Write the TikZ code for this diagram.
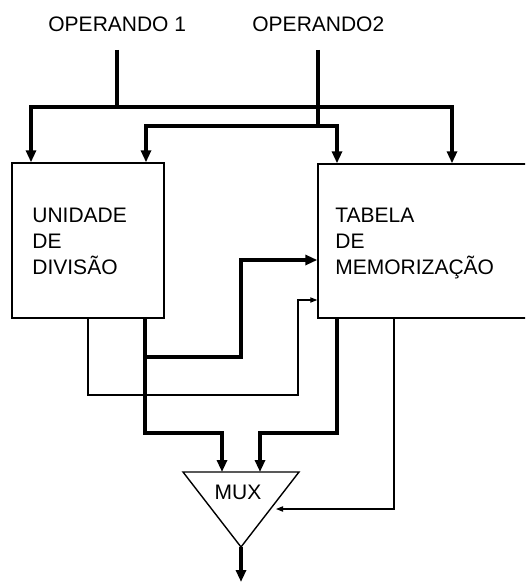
\documentclass[tikz,border=0pt]{standalone}
\usepackage{fontspec}
\setmainfont{Liberation Sans}
\usetikzlibrary{arrows.meta}
\begin{document}
\begin{tikzpicture}[x=0.5pt,y=-0.5pt,
  lbl/.style={font=\fontsize{10.5}{13}\selectfont, inner sep=0pt, align=left},
  box/.style={draw, line width=0.7pt, inner sep=0pt},
  bus/.style={line width=1.7pt, line join=miter},
  busarrow/.style={bus, -{Triangle[length=6pt,width=5pt]}},
  wire/.style={line width=0.6pt, line join=miter},
  wirearrow/.style={wire, -{Triangle[length=3.5pt,width=2.6pt]}}]
\useasboundingbox (0,0) rectangle (525,583);
\clip (0,0) rectangle (525,583);

% labels
\node[lbl, anchor=base west] (op1) at (48,32) {OPERANDO 1};
\node[lbl, anchor=base west] (op2) at (252,32) {OPERANDO2};

% boxes
\node[box, minimum width=76pt, minimum height=77.5pt] (div) at (88,240.5) {};
\node[box, minimum width=111pt, minimum height=77pt] (tab) at (429,241) {};
\node[lbl, anchor=base west] (divtxt) at (32,274) {UNIDADE\\DE\\DIVISÃO};
\node[lbl, anchor=base west] (tabtxt) at (335,274) {TABELA\\DE\\MEMORIZAÇÃO};

% mux
\coordinate (mL) at (183,472);
\coordinate (mR) at (299,472);
\coordinate (mB) at (241,547);
\draw[box] (mL) -- (mR) -- (mB) -- cycle;
\node[lbl, anchor=base] (mux) at (238,499) {MUX};

% operand buses
\coordinate (s1) at (117,50);
\coordinate (s2) at (318,50);
\draw[bus] (s1) -- (117,107) coordinate (b1);
\draw[busarrow] (b1) -| (div.north -| 31,0);
\draw[busarrow] (b1) -| (tab.north -| 452,0);
\draw[bus] (s2) -- (318,126) coordinate (b2);
\draw[busarrow] (b2) -| (div.north -| 146,0);
\draw[busarrow] (b2) -| (tab.north -| 337,0);

% middle connections
\draw[busarrow] (div.south -| 145,0) -- (145,433) -| (mL -| 222,0);
\draw[busarrow] (145,357) -| (241,260) -- (tab.west |- 0,260);
\draw[wirearrow] (div.south -| 88,0) |- (298,395) |- (tab.west |- 0,300);
\draw[busarrow] (tab.south -| 337,0) -- (337,433) -| (mL -| 260,0);
\draw[wirearrow] (tab.south -| 394,0) |- (276,509);

% output
\draw[busarrow] (mB) -- (241,582);
\end{tikzpicture}
\end{document}
